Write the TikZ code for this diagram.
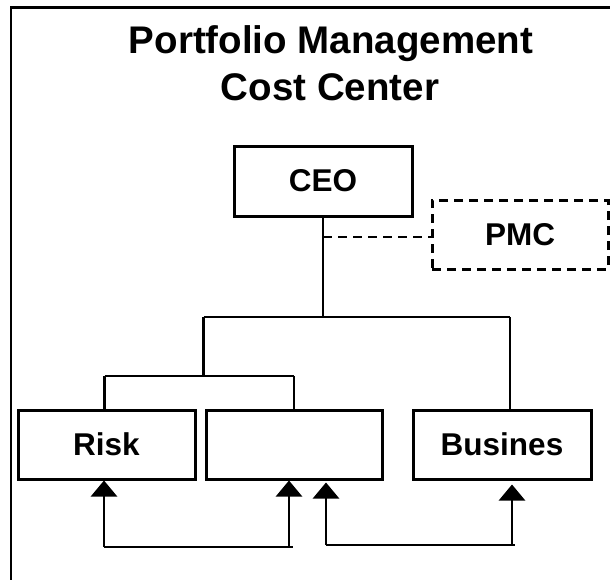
\documentclass[tikz,border=0pt]{standalone}
\usepackage{fontspec}
\setmainfont{Liberation Sans}
\usetikzlibrary{arrows.meta}
\tikzset{
  box/.style={draw, line width=3pt, minimum width=177pt, minimum height=69pt, inner sep=0pt,
    font=\bfseries\fontsize{31.5}{37}\selectfont},
  dbox/.style={box, dash pattern=on 9pt off 6pt},
  conn/.style={line width=2.6pt},
  dconn/.style={line width=2.6pt, dash pattern=on 9pt off 6pt},
  arr/.style={line width=2.6pt, -{Triangle[width=26pt,length=16pt]}},
  ttl/.style={anchor=base, inner sep=0pt, font=\bfseries\fontsize{38.5}{47.7}\selectfont}
}
\begin{document}
\begin{tikzpicture}[x=1pt,y=-1pt]
\useasboundingbox (0,0) rectangle (610,579);
\fill[white] (0,0) rectangle (610,579);
\clip (0,0) rectangle (610,579);
% frame
\draw[line width=2.8pt] (11,590) -- (11,7.5) -- (620,7.5);
% title
\node[ttl] (t1) at (331,53) {Portfolio Management};
\node[ttl] (t2) at (330,100.7) {Cost Center};
% boxes
\node[box, minimum width=178pt, minimum height=70pt] (ceo) at (323,181) {CEO};
\node[dbox, minimum width=176pt] (pmc) at (520,234.5) {PMC};
\node[box] (risk) at (106.5,444.5) {Risk};
\node[box, minimum width=176pt] (mid) at (294,444.5) {};
\node[box, minimum width=178pt] (bus) at (502,444.5) {Busines};
% tree connectors
\coordinate (j1) at (323,317);
\coordinate (jl) at (203.5,317);
\coordinate (jr) at (510,317);
\coordinate (k1) at (203.5,376);
\coordinate (kl) at (104.5,376);
\coordinate (kr) at (294,376);
\coordinate (d) at (323,237);
\draw[conn] (ceo.south) -- (j1);
\draw[conn] (jl) -- (jr);
\draw[conn] (jr) -- (jr |- bus.north);
\draw[conn] (jl) -- (k1);
\draw[conn] (kl) -- (kr);
\draw[conn] (kl) -- (kl |- risk.north);
\draw[conn] (kr) -- (kr |- mid.north);
\draw[dconn] (d) -- (d -| pmc.west);
% bottom arrows
\coordinate (a1) at (104,547);
\coordinate (a2) at (289,547);
\coordinate (b1) at (326,545);
\coordinate (b2) at (512,545);
\draw[conn] (a1) -- (293,547);
\draw[arr] (a1) -- (a1 |- risk.south);
\draw[arr] (a2) -- (a2 |- mid.south);
\draw[conn] (b1) -- (515,545);
\draw[arr] (b1) -- ([yshift=-2pt]b1 |- mid.south);
\draw[arr] (b2) -- ([yshift=-4pt]b2 |- bus.south);
\end{tikzpicture}
\end{document}
